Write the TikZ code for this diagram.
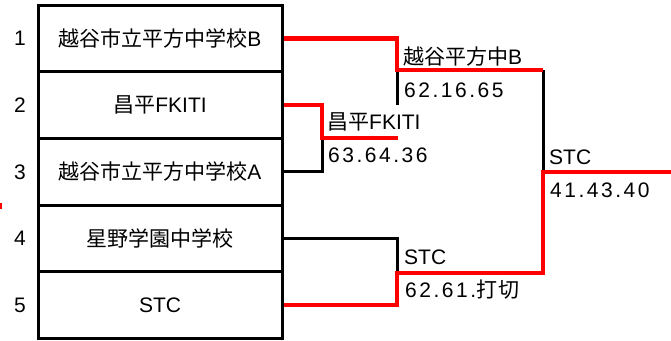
\documentclass[tikz,border=0pt]{standalone}
\usepackage{fontspec}
\setmainfont{Liberation Sans}
\newfontfamily\cjk{Noto Sans CJK JP}
\newfontfamily\scorefont[LetterSpace=12]{Liberation Sans}
\newfontfamily\scorecjk[LetterSpace=4]{Noto Sans CJK JP}
\begin{document}
\begin{tikzpicture}[x=1pt,y=-1pt,
  team/.style={draw,line width=3pt,minimum width=244pt,minimum height=66.6pt,inner sep=0pt,font=\fontsize{21}{25}\selectfont},
  num/.style={font=\fontsize{21}{25}\selectfont},
  lbl/.style={anchor=west,inner sep=0pt,font=\fontsize{21}{25}\selectfont},
  win/.style={draw=red,line width=4.5pt,line join=miter},
  lose/.style={draw=black,line width=3pt}]
\useasboundingbox (0,0) rectangle (671,340);
% team boxes
\node[team] (r1) at (160,38.6) {{\cjk 越谷市立平方中学校}B};
\node[team] (r2) at (160,105.2) {{\cjk 昌平}FKITI};
\node[team] (r3) at (160,171.8) {{\cjk 越谷市立平方中学校}A};
\node[team] (r4) at (160,238.4) {{\cjk 星野学園中学校}};
\node[team] (r5) at (160,305) {STC};
% seeds
\node[num] (n1) at (20,38.6) {1};
\node[num] (n2) at (20,105.2) {2};
\node[num] (n3) at (20,171.8) {3};
\node[num] (n4) at (20,238.4) {4};
\node[num] (n5) at (20,305) {5};
% junctions
\coordinate (a1) at (397,38.6);
\coordinate (j1) at (397,70);
\coordinate (j1b) at (397,105);
\coordinate (a2) at (322,105.2);
\coordinate (j23) at (322,138);
\coordinate (a3) at (322,171.8);
\coordinate (e23) at (398,138);
\coordinate (a4) at (397,238.4);
\coordinate (j45) at (397,273);
\coordinate (a5) at (397,305);
\coordinate (f1) at (543,70);
\coordinate (f2) at (543,172);
\coordinate (f3) at (543,273);
\coordinate (fin) at (671,172);
% losing lines
\draw[lose] (r3.east) -- (a3) -- (j23);
\draw[lose] (j1) -- (j1b);
\draw[lose] (r4.east) -- (a4) -- (j45);
\draw[lose] (f1) -- (f2);
% winning lines
\draw[win] (r1.east) -- (a1) -- (j1) -- (f1);
\draw[win] (r2.east) -- (a2) -- (j23) -- (e23);
\draw[win] (r5.east) -- (a5) -- (j45) -- (f3) -- (f2) -- (fin);
% small red tick at the left edge
\coordinate (t1) at (1,203);
\coordinate (t2) at (1,209);
\draw[red,line width=2pt] (t1) -- (t2);
% results
\node[lbl] (w1) at (403,57) {{\cjk 越谷平方中}B};
\node[lbl] (s1) at (404,90) {\scorefont 62.16.65};
\node[lbl] (w2) at (327,122) {{\cjk 昌平}FKITI};
\node[lbl] (s2) at (328,155) {\scorefont 63.64.36};
\node[lbl] (w3) at (404,257) {STC};
\node[lbl] (s3) at (405,290) {\scorefont 62.61.{\scorecjk 打切}};
\node[lbl] (w4) at (549,157) {STC};
\node[lbl] (s4) at (550,190) {\scorefont 41.43.40};
\end{tikzpicture}
\end{document}
